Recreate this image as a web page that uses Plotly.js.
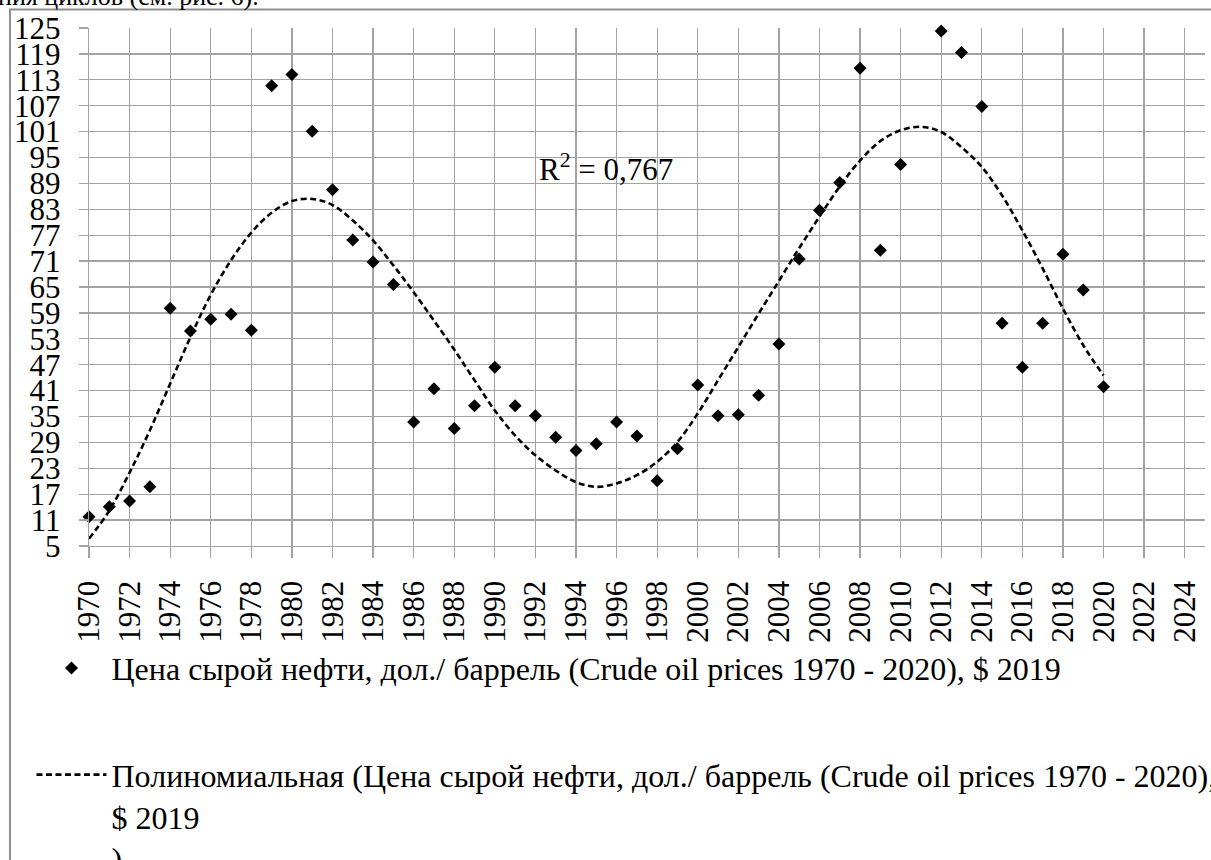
<!DOCTYPE html>
<html>
<head>
<meta charset="utf-8">
<script src="https://cdn.plot.ly/plotly-3.0.1.min.js"></script>
<style>
html,body{margin:0;padding:0;background:#ffffff;}
#chart{width:1211px;height:860px;}
</style>
</head>
<body>
<div id="chart"></div>
<script>
// ---- data ----
const years = [1970,1971,1972,1973,1974,1975,1976,1977,1978,1979,
               1980,1981,1982,1983,1984,1985,1986,1987,1988,1989,
               1990,1991,1992,1993,1994,1995,1996,1997,1998,1999,
               2000,2001,2002,2003,2004,2005,2006,2007,2008,2009,
               2010,2012,2013,2014,2015,2016,2017,2018,2019,2020];
const prices = [11.8,14.1,15.4,18.7,60.1,54.8,57.5,58.7,55.0,111.6,
                114.2,101.1,87.5,75.9,70.8,65.6,33.7,41.4,32.2,37.5,
                46.4,37.5,35.2,30.2,27.1,28.7,33.7,30.5,20.1,27.5,
                42.3,35.2,35.4,39.9,51.8,71.5,82.8,89.2,115.7,73.5,
                93.4,124.3,119.3,106.8,56.6,46.4,56.6,72.6,64.3,41.9];

const trendYears = [1970,1971,1972,1973,1974,1975,1976,1977,1978,1979,
                    1980,1981,1982,1983,1984,1985,1986,1987,1988,1989,
                    1990,1991,1992,1993,1994,1995,1996,1997,1998,1999,
                    2000,2001,2002,2003,2004,2005,2006,2007,2008,2009,
                    2010,2011,2012,2013,2014,2015,2016,2017,2018,2019,2020];
const trendValues = [6.7,13.2,22.0,31.8,42.6,53.4,63.2,71.2,77.6,82.2,
                     84.9,85.4,84.0,80.4,75.8,70.0,63.8,57.2,50.5,43.4,
                     36.4,30.6,26.0,22.5,19.8,18.7,19.5,21.4,24.5,29.1,
                     35.7,43.4,51.1,58.8,66.4,74.0,81.3,88.3,94.3,98.8,
                     101.3,102.1,100.9,97.4,92.8,86.2,78.1,69.3,60.0,51.5,44.5];

const yTicks = [5,11,17,23,29,35,41,47,53,59,65,71,77,83,89,95,101,107,113,119,125];
const xTicks = [1970,1972,1974,1976,1978,1980,1982,1984,1986,1988,1990,1992,1994,1996,
                1998,2000,2002,2004,2006,2008,2010,2012,2014,2016,2018,2020,2022,2024];
const xTickText = xTicks.map(String);
const yTickText = yTicks.map(String);

const seriesName = "Цена сырой нефти, дол./ баррель (Crude oil prices 1970 - 2020), $ 2019";
const trendName = "Полиномиальная (Цена сырой нефти, дол./ баррель (Crude oil prices 1970 - 2020),<br>$ 2019<br>)";
const r2Label = "R<sup>2</sup> = 0,767";
const captionFragment = "ния циклов (см. рис. 6).";

// ---- chart ----
const FONT = "Liberation Serif, DejaVu Serif, serif";
const GRID = "#a3a3a3";

const traces = [
  {
    type: "scatter", mode: "markers",
    x: years, y: prices,
    name: seriesName, legendgroup: "a",
    marker: {symbol: "diamond", size: 10, color: "#000000"},
    cliponaxis: false,
    hoverinfo: "x+y"
  },
  {
    type: "scatter", mode: "lines",
    x: trendYears, y: trendValues,
    name: trendName, legendgroup: "b",
    line: {color: "#000000", width: 2.6, dash: "6px,3.5px", shape: "spline", smoothing: 1},
    hoverinfo: "skip"
  }
];

const layout = {
  width: 1211, height: 860,
  margin: {l: 89, r: 6, t: 28, b: 314, pad: 0, autoexpand: false},
  paper_bgcolor: "#ffffff", plot_bgcolor: "#ffffff",
  font: {family: FONT, size: 31, color: "#000000"},
  showlegend: true,
  xaxis: {
    range: [1970, 2025], autorange: false,
    tickmode: "array", tickvals: xTicks, ticktext: xTickText,
    tickangle: -90,
    tickfont: {family: FONT, size: 31, color: "#000000"},
    showgrid: true, gridcolor: GRID, gridwidth: 1.3,
    zeroline: false,
    showline: true, linecolor: GRID, linewidth: 1.3,
    ticks: "outside", ticklen: 11, tickcolor: GRID, tickwidth: 1.3,
    ticklabelstandoff: 10
  },
  yaxis: {
    range: [5, 125], autorange: false,
    tickmode: "array", tickvals: yTicks, ticktext: yTickText,
    tickfont: {family: FONT, size: 31, color: "#000000"},
    showgrid: true, gridcolor: GRID, gridwidth: 1.3,
    zeroline: false,
    showline: true, linecolor: GRID, linewidth: 1.3,
    ticks: "outside", ticklen: 9, tickcolor: GRID, tickwidth: 1.3,
    ticklabelstandoff: 12
  },
  legend: {
    xref: "container", yref: "container",
    x: 0.026, y: 0.255, xanchor: "left", yanchor: "top",
    orientation: "v", valign: "top",
    traceorder: "grouped", tracegroupgap: 62,
    itemwidth: 70,
    font: {family: FONT, size: 32, color: "#000000"},
    bgcolor: "rgba(0,0,0,0)", borderwidth: 0
  },
  annotations: [
    {
      xref: "x", yref: "y", x: 1992.1, y: 92.8,
      xanchor: "left", yanchor: "middle",
      text: r2Label, showarrow: false,
      font: {family: FONT, size: 31, color: "#000000"}
    },
    {
      xref: "paper", yref: "paper", x: -0.083, y: 1.029,
      xanchor: "left", yanchor: "bottom",
      text: captionFragment, showarrow: false,
      font: {family: FONT, size: 26, color: "#000000"}
    }
  ],
  shapes: [
    {
      type: "rect", xref: "paper", yref: "paper",
      x0: -0.0708, x1: 1.08, y0: -0.75, y1: 1.0357,
      line: {color: "#8f8f8f", width: 2}, fillcolor: "rgba(0,0,0,0)",
      layer: "below"
    }
  ]
};

Plotly.newPlot("chart", traces, layout, {displayModeBar: false, staticPlot: true});
</script>
</body>
</html>
